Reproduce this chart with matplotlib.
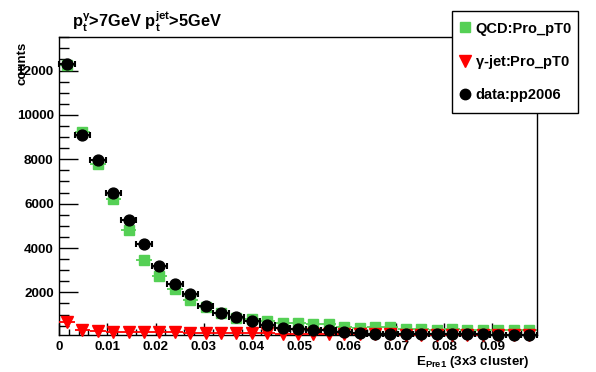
import numpy as np
import matplotlib
matplotlib.use("Agg")
import matplotlib.pyplot as plt
from matplotlib.lines import Line2D
from matplotlib.ticker import MultipleLocator, FuncFormatter

plt.rcParams['font.family'] = ['Liberation Sans', 'DejaVu Sans']
plt.rcParams['font.weight'] = 'bold'
plt.rcParams['mathtext.fontset'] = 'custom'
plt.rcParams['mathtext.rm'] = 'Liberation Sans:bold'
plt.rcParams['mathtext.it'] = 'Liberation Sans:bold'
plt.rcParams['mathtext.bf'] = 'Liberation Sans:bold'

# ---- data ----
n_bins = 31
x_min, x_max = 0.0, 0.0992
qcd = [12250, 9230, 7780, 6220, 4830, 3440, 2720, 2160, 1640, 1330,
       1080, 860, 810, 700, 630, 630, 590, 555, 450, 410,
       450, 450, 360, 360, 320, 360, 285, 285, 320, 285, 285]
gjet = [650, 300, 240, 230, 220, 210, 210, 200, 190, 180,
        170, 160, 160, 150, 140, 140, 130, 130, 120, 120,
        110, 110, 100, 100, 100, 95, 95, 90, 90, 90, 85]
data = [12300, 9100, 7950, 6500, 5280, 4160, 3170, 2390, 1930, 1400,
        1080, 880, 690, 550, 410, 335, 316, 284, 225, 180,
        140, 130, 125, 120, 115, 110, 110, 105, 100, 100, 95]
labels = ["QCD:Pro_pT0", r"$\gamma$-jet:Pro_pT0", "data:pp2006"]

edges = np.linspace(x_min, x_max, n_bins + 1)
centers = 0.5 * (edges[:-1] + edges[1:])
half_w = 0.5 * (edges[1] - edges[0])

green = '#55d055'
red = '#ff0000'

fig = plt.figure(figsize=(5.96, 3.72), dpi=100)
ax = fig.add_axes([0.0995, 0.0995, 0.801, 0.8002])

ax.errorbar(centers, qcd, xerr=half_w, fmt='s', color=green, ms=6.8,
            elinewidth=1.3, capsize=0, zorder=2, clip_on=False)
ax.errorbar(centers, gjet, xerr=half_w, fmt='v', color=red, ms=8.5,
            elinewidth=1.3, capsize=0, zorder=3, clip_on=False)
ax.errorbar(centers, data, xerr=half_w, fmt='o', color='black', ms=7.8,
            elinewidth=1.5, capsize=2.5, capthick=1.5, zorder=4, clip_on=False)

ax.set_xlim(x_min, x_max)
ax.set_ylim(80, 13500)

ax.xaxis.set_major_locator(MultipleLocator(0.01))
ax.xaxis.set_minor_locator(MultipleLocator(0.002))
ax.yaxis.set_major_locator(MultipleLocator(2000))
ax.yaxis.set_minor_locator(MultipleLocator(500))
ax.xaxis.set_major_formatter(FuncFormatter(lambda v, p: '0' if abs(v) < 1e-9 else f'{v:.2f}'))
ax.yaxis.set_major_formatter(FuncFormatter(lambda v, p: f'{int(round(v))}'))

ax.tick_params(axis='both', which='both', direction='in', top=False, right=False,
               labelsize=9.7, width=1)
ax.tick_params(axis='y', which='major', length=14, pad=4)
ax.tick_params(axis='y', which='minor', length=7)
ax.tick_params(axis='x', which='major', length=9, pad=4)
ax.tick_params(axis='x', which='minor', length=4.5)
for lab in ax.get_xticklabels() + ax.get_yticklabels():
    lab.set_fontweight('bold')
for s in ax.spines.values():
    s.set_linewidth(1)

fig.text(72 / 596, 1 - 27 / 372,
         r'$\mathrm{p}_{t}^{\gamma}$>7GeV $\mathrm{p}_{t}^{jet}$>5GeV',
         fontsize=11.8, fontweight='bold', va='baseline', ha='left')
fig.text(530 / 596, 1 - 365 / 372, r'$\mathrm{E}_{Pre1}$ (3x3 cluster)',
         fontsize=9.6, fontweight='bold', va='baseline', ha='right')
fig.text(22 / 596, 1 - 42 / 372, 'counts', rotation=90, fontsize=9.5,
         fontweight='bold', va='top', ha='center')

handles = [
    Line2D([], [], ls='none', marker='s', color=green, ms=6.8),
    Line2D([], [], ls='none', marker='v', color=red, ms=8),
    Line2D([], [], ls='none', marker='o', color='black', ms=7.5),
]
leg = fig.legend(handles, labels, loc='upper left',
                 bbox_to_anchor=(452 / 596, 0, 126 / 596, 1 - 11 / 372),
                 mode='expand', borderaxespad=0, borderpad=0.72,
                 handlelength=0.4, handletextpad=0.45, labelspacing=1.2,
                 frameon=True, fancybox=False,
                 prop={'weight': 'bold', 'size': 10.5})
fr = leg.get_frame()
fr.set_edgecolor('black')
fr.set_linewidth(1)
fr.set_facecolor('white')
fr.set_alpha(1)

fig.savefig('out.png', dpi=100)
